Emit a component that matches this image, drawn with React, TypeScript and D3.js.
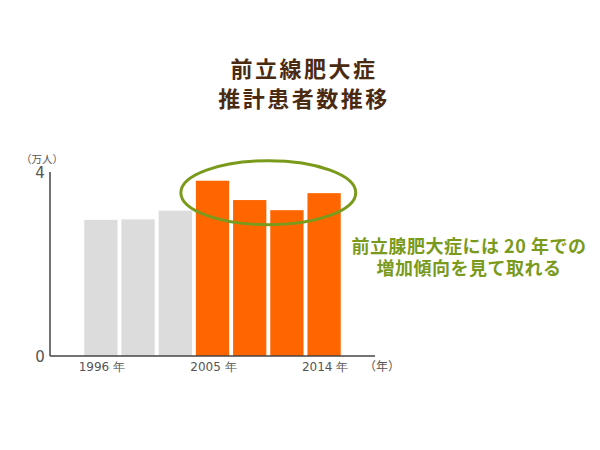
import { useEffect, useRef } from 'react';
import * as d3 from 'd3';

const years = ['1996', '1999', '2002', '2005', '2008', '2011', '2014'];
const patients = [2.96, 2.97, 3.16, 3.81, 3.39, 3.17, 3.54];
const highlighted = [false, false, false, true, true, true, true];
const labeledYears = ['1996', '2005', '2014'];
const yTicks = [0, 4];
const titleLines = ['前立線肥大症', '推計患者数推移'];
const noteLines = ['前立腺肥大症には 20 年での', '増加傾向を見て取れる'];

const JP = '"Noto Sans CJK JP", "Noto Sans", sans-serif';
const NUM = '"DejaVu Sans", Verdana, sans-serif';

export default function App() {
  const svgRef = useRef<SVGSVGElement>(null);

  useEffect(() => {
    if (!svgRef.current) return;
    const svg = d3.select(svgRef.current);
    svg.selectAll('*').remove();

    const x = d3.scaleBand<string>()
      .domain(years)
      .range([82.4, 342.6])
      .paddingInner(0.105)
      .paddingOuter(0.05);

    const y = d3.scaleLinear().domain([0, 4]).range([356, 172]);

    // Title
    svg.append('g')
      .selectAll('text')
      .data(titleLines)
      .join('text')
      .attr('x', 304)
      .attr('y', (_, i) => 77 + i * 30)
      .attr('text-anchor', 'middle')
      .style('font-family', JP)
      .style('font-size', '22px')
      .style('font-weight', 'bold')
      .style('letter-spacing', '2.5px')
      .style('fill', '#4b2a12')
      .text(d => d);

    // Bars
    svg.append('g')
      .selectAll('rect')
      .data(years)
      .join('rect')
      .attr('x', d => x(d)!)
      .attr('width', x.bandwidth())
      .attr('y', (_, i) => y(patients[i]))
      .attr('height', (_, i) => y(0) - y(patients[i]))
      .style('fill', (_, i) => (highlighted[i] ? '#ff6600' : '#dcdcdc'));

    // Axes
    svg.append('line')
      .attr('x1', 50).attr('x2', 50)
      .attr('y1', y(4)).attr('y2', y(0))
      .style('stroke', '#444').style('stroke-width', 1.5);
    svg.append('line')
      .attr('x1', 50).attr('x2', 375)
      .attr('y1', y(0)).attr('y2', y(0))
      .style('stroke', '#444').style('stroke-width', 1.5);

    svg.append('g')
      .selectAll('text')
      .data(yTicks)
      .join('text')
      .attr('x', 40)
      .attr('y', d => y(d) + 6)
      .attr('text-anchor', 'middle')
      .style('font-family', NUM)
      .style('font-size', '15px')
      .style('fill', '#555')
      .text(d => d);

    svg.append('text')
      .attr('x', 42)
      .attr('y', 163)
      .attr('text-anchor', 'middle')
      .style('font-family', JP)
      .style('font-size', '10.5px')
      .style('fill', '#555')
      .text('（万人）');

    svg.append('g')
      .selectAll('text')
      .data(labeledYears)
      .join('text')
      .attr('x', d => x(d)! + x.bandwidth() / 2 + 1)
      .attr('y', 371)
      .attr('text-anchor', 'middle')
      .style('font-family', NUM)
      .style('font-size', '12px')
      .style('fill', '#555')
      .text(d => `${d} 年`);

    svg.append('text')
      .attr('x', 382)
      .attr('y', 371)
      .attr('text-anchor', 'middle')
      .style('font-family', JP)
      .style('font-size', '12px')
      .style('fill', '#555')
      .text('（年）');

    // Highlight ellipse around the later bars
    const x0 = x(years[3])!;
    const x1 = x(years[6])! + x.bandwidth();
    svg.append('ellipse')
      .attr('cx', (x0 + x1) / 2)
      .attr('cy', y(3.55))
      .attr('rx', (x1 - x0) / 2 + 15)
      .attr('ry', 32)
      .style('fill', 'none')
      .style('stroke', '#7a9a1c')
      .style('stroke-width', 3);

    // Note
    svg.append('g')
      .selectAll('text')
      .data(noteLines)
      .join('text')
      .attr('x', 469)
      .attr('y', (_, i) => 253 + i * 22)
      .attr('text-anchor', 'middle')
      .style('font-family', JP)
      .style('font-size', '18px')
      .style('font-weight', 'bold')
      .style('letter-spacing', '0.5px')
      .style('fill', '#7a9a1c')
      .text(d => d);
  }, []);

  return (
    <svg
      ref={svgRef}
      width={600}
      height={450}
      style={{ position: 'absolute', left: 0, top: 0, background: '#fff' }}
    />
  );
}
